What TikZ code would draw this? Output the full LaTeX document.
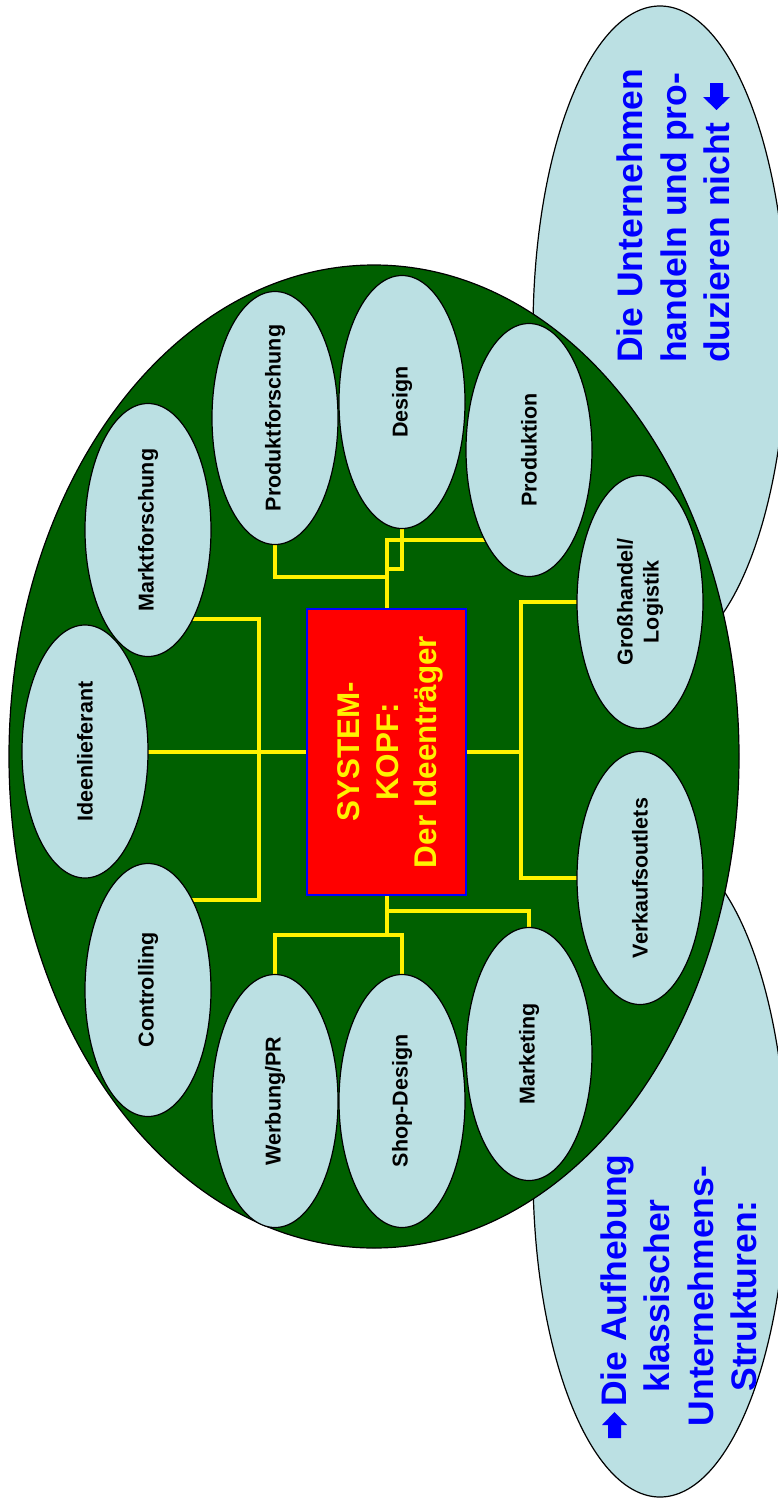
\documentclass[tikz,border=0pt]{standalone}
\usepackage{fontspec}
\setmainfont{Liberation Sans}
\usepackage{tikz}
\usetikzlibrary{shapes.geometric}
\definecolor{dgruen}{RGB}{0,96,0}
\definecolor{hblau}{RGB}{187,224,227}
\newcommand{\fk}{\fontsize{21.5}{26}\selectfont\bfseries}
\newcommand{\fs}{\fontsize{31.4}{38.5}\selectfont\bfseries}
\newcommand{\fn}{\fontsize{35.5}{43.5}\selectfont\bfseries}
\newcommand{\bub}[3]{\node[bubble] (#1) at (#2) {}; \node[btext] (#1-t) at (#1) {#3};}
\pgfdeclarelayer{bg}
\pgfdeclarelayer{wires}
\pgfsetlayers{bg,wires,main}

\begin{document}
\begin{tikzpicture}[x=1pt,y=-1pt,
	blob/.style={ellipse,draw,line width=1.2pt,inner sep=0pt,outer sep=0pt},
	bubble/.style={blob,fill=hblau,minimum width=126pt,minimum height=253pt},
	btext/.style={rotate=90,align=center,font=\fk},
	wire/.style={draw=yellow,line width=4pt},
	note/.style={rotate=90,inner sep=0pt,text=blue,font=\fn},
	pfeil/.style={fill=blue}]
	\useasboundingbox (0,0) rectangle (777,1499);
	\begin{pgfonlayer}{bg}
	\node[blob,fill=hblau,minimum width=254pt,minimum height=650pt] (oben) at (660,331) {};
	\node[blob,fill=hblau,minimum width=254pt,minimum height=650pt] (unten) at (660,1172) {};
	\node[blob,fill=dgruen,minimum width=730pt,minimum height=983pt] (feld) at (374,756.5) {};
	\end{pgfonlayer}
	\bub{ideen}{85,751.5}{Ideenlieferant}
	\bub{markt}{148,530}{Marktforschung}
	\bub{pforsch}{275,418}{Produktforschung}
	\bub{design}{402,402}{Design}
	\bub{produktion}{529,450}{Produktion}
	\bub{gross}{640,602}{Großhandel/\\Logistik}
	\bub{verkauf}{640,878}{Verkaufsoutlets}
	\bub{marketing}{529,1054}{Marketing}
	\bub{shop}{402,1101}{Shop-Design}
	\bub{werbung}{275,1101}{Werbung/PR}
	\bub{ctrl}{148,990}{Controlling}
	\node[draw=blue,fill=red,line width=1.5pt,minimum width=159pt,minimum height=286pt,inner sep=0pt] (kopf) at (386.5,752) {};
	\node[rotate=90,align=center,text=yellow,font=\fs] (kopf-t) at (390.5,752) {SYSTEM-\\KOPF:\\Der Ideenträger};
	\begin{pgfonlayer}{wires}
	\coordinate (lo) at (259,619);
	\coordinate (lu) at (259,900);
	\coordinate (re) at (521,752);
	\coordinate (ob) at (386.5,540);
	\coordinate (de) at (386.5,569);
	\coordinate (pf) at (386.5,577);
	\coordinate (mk) at (386.5,911);
	\coordinate (ub) at (386.5,935);
	\path[wire]
	(ideen) -- (ideen -| kopf)
	(markt |- lo) -- (lo) -- (lu) -- (ctrl |- lu)
	(kopf) -- (ob) -| (produktion)
	(de) -| (design)
	(pf) -| (pforsch)
	(kopf) -- (re)
	(gross) -| (re) |- (verkauf)
	(kopf) -- (ub)
	(werbung) |- (ub) -| (shop)
	(mk) -| (marketing);
	\end{pgfonlayer}
	\node[note,align=left,anchor=west] (n-oben) at (673.5,363) {Die Unternehmen\\handeln und pro-\\duzieren nicht};
	\node[note,align=center] (n-unten) at (679,1296) {\hspace*{31pt}Die Aufhebung\\klassischer\\Unternehmens-\\Strukturen:};
	\fill[pfeil] (710,83) -- (723,83) -- (723,97) -- (730,97) -- (716.5,110) -- (703,97) -- (710,97) -- cycle;
	\fill[pfeil] (608,1438) -- (621,1438) -- (621,1425) -- (627,1425) -- (614.5,1412) -- (602,1425) -- (608,1425) -- cycle;
\end{tikzpicture}
\end{document}
